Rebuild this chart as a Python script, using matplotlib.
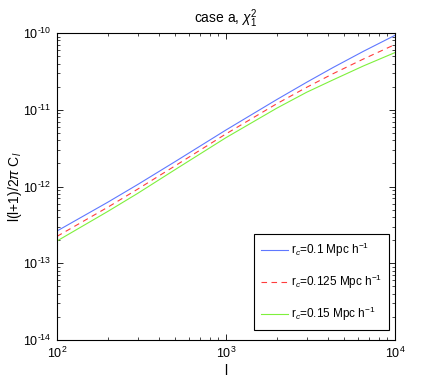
import matplotlib
matplotlib.use("Agg")
import matplotlib.pyplot as plt
from matplotlib.ticker import LogLocator, NullFormatter, FuncFormatter, FixedLocator
import numpy as np

plt.rcParams['font.family'] = ['Liberation Sans', 'DejaVu Sans']
plt.rcParams['mathtext.fontset'] = 'custom'
plt.rcParams['mathtext.rm'] = 'Liberation Sans'
plt.rcParams['mathtext.it'] = 'Liberation Sans:italic'
plt.rcParams['mathtext.sf'] = 'Liberation Sans'

# multipoles and l(l+1)/2pi C_l for three core radii
ell = [100, 200, 300, 500, 1000, 2000, 3000, 4300, 6500, 10000]
cl_r010 = [2.63e-13, 6.25e-13, 1.06e-12, 2.11e-12, 5.45e-12,
           1.36e-11, 2.28e-11, 3.55e-11, 5.77e-11, 9.33e-11]
cl_r0125 = [2.24e-13, 5.38e-13, 9.23e-13, 1.86e-12, 4.85e-12,
            1.20e-11, 1.96e-11, 2.95e-11, 4.58e-11, 7.08e-11]
cl_r015 = [1.95e-13, 4.74e-13, 8.13e-13, 1.66e-12, 4.33e-12,
           1.05e-11, 1.69e-11, 2.45e-11, 3.72e-11, 5.56e-11]
labels = [r'r$_c$=0.1 Mpc h$^{-1}$', r'r$_c$=0.125 Mpc h$^{-1}$',
          r'r$_c$=0.15 Mpc h$^{-1}$']
xticks = [1e2, 1e3, 1e4]
yticks = [1e-14, 1e-13, 1e-12, 1e-11, 1e-10]


def pow10(v, pos):
    e = int(round(np.log10(v)))
    return '10$^{\\mathregular{%s}}$' % str(e).replace('-', '\u2010')


fig = plt.figure(figsize=(4.36, 3.82), dpi=100)
ax = fig.add_axes([57/436, 1-340/382, 338/436, 307/382])

ax.loglog(ell, cl_r010, color='#5f78ff', lw=0.8, label=labels[0])
ax.loglog(ell, cl_r0125, color='#ff3c3c', lw=0.8, ls=(0, (5, 4)), label=labels[1])
ax.loglog(ell, cl_r015, color='#7ff03c', lw=0.8, label=labels[2])

ax.set_xlim(1e2, 1e4)
ax.set_ylim(1e-14, 1e-10)
ax.xaxis.set_major_locator(FixedLocator(xticks))
ax.yaxis.set_major_locator(FixedLocator(yticks))
ax.yaxis.set_minor_locator(LogLocator(base=10, subs=range(2, 10), numticks=20))
ax.xaxis.set_major_formatter(FuncFormatter(pow10))
ax.yaxis.set_major_formatter(FuncFormatter(pow10))
ax.xaxis.set_minor_formatter(NullFormatter())
ax.yaxis.set_minor_formatter(NullFormatter())
ax.tick_params(which='both', direction='in', top=True, right=True, labelsize=9)
ax.tick_params(which='major', length=4, width=0.6, pad=4)
ax.tick_params(which='minor', length=2, width=0.5)
for s in ax.spines.values():
    s.set_linewidth(0.8)

ax.set_title(r'case a, $\chi_1^2$', fontsize=10, pad=7)
ax.set_xlabel('l', fontsize=10, labelpad=2)
ax.set_ylabel(r'l(l+1)/2$\pi$ C$_l$', fontsize=10)
ax.yaxis.set_label_coords(-0.097, 0.5)

leg = ax.legend(loc='lower right', bbox_to_anchor=(0.982, 0.033), fontsize=8.5,
                labelspacing=1.15, handlelength=2.3, handletextpad=0.2,
                borderpad=0.6, borderaxespad=0, fancybox=False, framealpha=1)
leg.get_frame().set_edgecolor('black')
leg.get_frame().set_linewidth(0.8)

fig.savefig('out.png', dpi=100)
